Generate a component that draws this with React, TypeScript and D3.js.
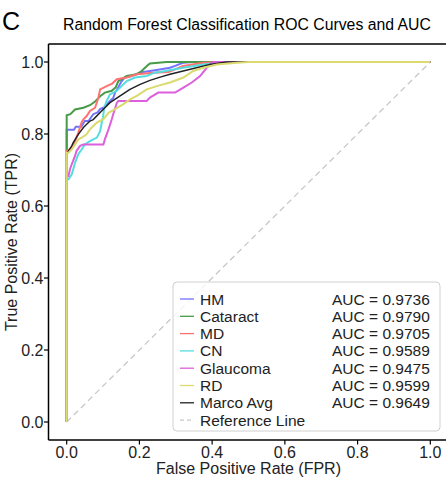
import React from "react";
import * as d3 from "d3";

const classNames = ["HM", "Cataract", "MD", "CN", "Glaucoma", "RD", "Marco Avg"];
const aucValues = ["0.9736", "0.9790", "0.9705", "0.9589", "0.9475", "0.9599", "0.9649"];
const colors = ["#7373ff", "#479a47", "#ff7272", "#55dcdc", "#dc5fdc", "#dada6e", "#222222"];

const hmFpr = [0, 0, 0.02, 0.025, 0.04, 0.05, 0.06, 0.073, 0.085, 0.092, 0.105, 0.119, 0.128, 0.133, 0.142, 0.15, 0.16, 0.179, 0.202, 0.229, 0.26, 0.284, 0.3, 0.32, 0.35, 1];
const hmTpr = [0, 0.812, 0.812, 0.82, 0.82, 0.836, 0.836, 0.855, 0.86, 0.869, 0.875, 0.892, 0.9, 0.915, 0.93, 0.945, 0.957, 0.961, 0.971, 0.975, 0.98, 0.984, 0.99, 0.998, 1, 1];

const catFpr = [0, 0, 0.01, 0.023, 0.046, 0.064, 0.078, 0.092, 0.105, 0.124, 0.135, 0.142, 0.165, 0.193, 0.206, 0.222, 0.229, 0.275, 1];
const catTpr = [0, 0.852, 0.855, 0.868, 0.873, 0.88, 0.89, 0.905, 0.915, 0.92, 0.93, 0.947, 0.961, 0.966, 0.975, 0.99, 0.996, 1, 1];

const mdFpr = [0, 0, 0.009, 0.018, 0.025, 0.032, 0.041, 0.046, 0.055, 0.064, 0.078, 0.087, 0.092, 0.11, 0.125, 0.138, 0.165, 0.193, 0.238, 0.28, 0.3, 0.32, 0.376, 0.44, 1];
const mdTpr = [0, 0.753, 0.757, 0.767, 0.785, 0.804, 0.832, 0.841, 0.85, 0.864, 0.873, 0.9, 0.924, 0.933, 0.94, 0.952, 0.957, 0.966, 0.97, 0.972, 0.98, 0.989, 0.998, 1, 1];

const cnFpr = [0, 0, 0.005, 0.014, 0.023, 0.032, 0.041, 0.05, 0.064, 0.083, 0.092, 0.096, 0.1, 0.103, 0.11, 0.119, 0.138, 0.151, 0.165, 0.188, 0.22, 0.243, 0.257, 0.32, 0.376, 0.43, 1];
const cnTpr = [0, 0.674, 0.674, 0.688, 0.72, 0.744, 0.757, 0.771, 0.78, 0.79, 0.808, 0.83, 0.846, 0.873, 0.892, 0.91, 0.92, 0.933, 0.947, 0.957, 0.961, 0.971, 0.972, 0.984, 0.993, 1, 1];

const glaFpr = [0, 0, 0.005, 0.009, 0.014, 0.023, 0.027, 0.037, 0.046, 0.101, 0.105, 0.115, 0.124, 0.128, 0.138, 0.142, 0.22, 0.229, 0.252, 0.298, 0.321, 0.344, 0.367, 0.385, 0.399, 0.41, 1];
const glaTpr = [0, 0.683, 0.683, 0.702, 0.716, 0.739, 0.753, 0.767, 0.771, 0.771, 0.785, 0.813, 0.841, 0.855, 0.887, 0.892, 0.892, 0.901, 0.915, 0.915, 0.929, 0.943, 0.961, 0.984, 0.998, 1, 1];

const rdFpr = [0, 0, 0.005, 0.014, 0.023, 0.032, 0.041, 0.055, 0.064, 0.069, 0.083, 0.101, 0.115, 0.133, 0.156, 0.174, 0.193, 0.22, 0.248, 0.284, 0.321, 0.348, 0.376, 0.413, 0.468, 0.5, 1];
const rdTpr = [0, 0.748, 0.748, 0.757, 0.771, 0.785, 0.79, 0.799, 0.813, 0.818, 0.832, 0.841, 0.859, 0.869, 0.883, 0.896, 0.906, 0.924, 0.933, 0.943, 0.957, 0.975, 0.984, 0.993, 0.998, 1, 1];

const macroFpr = [0, 0.014, 0.018, 0.032, 0.046, 0.064, 0.073, 0.096, 0.119, 0.147, 0.174, 0.202, 0.229, 0.257, 0.284, 0.34, 0.394, 0.44, 1];
const macroTpr = [0.745, 0.767, 0.776, 0.799, 0.818, 0.836, 0.84, 0.864, 0.887, 0.906, 0.924, 0.938, 0.949, 0.958, 0.966, 0.98, 0.993, 1, 1];

const tickValues = [0, 0.2, 0.4, 0.6, 0.8, 1.0];

const seriesFpr = [hmFpr, catFpr, mdFpr, cnFpr, glaFpr, rdFpr, macroFpr];
const seriesTpr = [hmTpr, catTpr, mdTpr, cnTpr, glaTpr, rdTpr, macroTpr];
// drawing order: macro average under the RD curve
const drawOrder = [0, 1, 2, 3, 4, 6, 5];

const FONT = "'Liberation Sans', Arial, sans-serif";

export default function App() {
  const W = 446;
  const H = 484;
  const left = 48.5;
  const right = 448.5;
  const top = 44;
  const bottom = 440;
  const x = d3.scaleLinear().domain([-0.05, 1.05]).range([left, right]);
  const y = d3.scaleLinear().domain([-0.05, 1.05]).range([bottom, top]);
  const line = d3
    .line<[number, number]>()
    .x((d) => x(d[0]))
    .y((d) => y(d[1]));

  const legX = 173;
  const legY = 282;
  const legW = 267;
  const legH = 149;
  const rowY0 = 299;
  const rowStep = 17.3;

  return (
    <svg
      width={W}
      height={H}
      style={{ position: "absolute", left: 0, top: 0, background: "#fff" }}
      fontFamily={FONT}
    >
      <rect x={0} y={0} width={W} height={H} fill="#fff" />
      <text x={2} y={30} fontSize={25} fill="#000">C</text>
      <text x={247} y={30} fontSize={15.8} textAnchor="middle" fill="#000">
        Random Forest Classification ROC Curves and AUC
      </text>

      <defs>
        <clipPath id="plotclip">
          <rect x={left} y={top} width={right - left} height={bottom - top} />
        </clipPath>
      </defs>

      <g clipPath="url(#plotclip)">
        <path
          d={line([[0, 0], [1, 1]]) || ""}
          stroke="#c8c8c8"
          strokeWidth={1.3}
          strokeDasharray="6,4"
          fill="none"
        />
        {drawOrder.map((i) => (
          <path
            key={i}
            d={line(seriesFpr[i].map((f, j) => [f, seriesTpr[i][j]] as [number, number])) || ""}
            stroke={colors[i]}
            strokeWidth={i === 6 ? 1.5 : 2}
            fill="none"
            strokeLinejoin="miter"
          />
        ))}
      </g>

      {/* frame */}
      <line x1={left} x2={right} y1={top} y2={top} stroke="#000" strokeWidth={1.5} />
      <line x1={left} x2={right} y1={bottom} y2={bottom} stroke="#000" strokeWidth={1.5} />
      <line x1={left} x2={left} y1={top} y2={bottom} stroke="#000" strokeWidth={1.5} />
      <line x1={right} x2={right} y1={top} y2={bottom} stroke="#000" strokeWidth={1.5} />

      {/* ticks */}
      {tickValues.map((t) => (
        <g key={"x" + t}>
          <line x1={x(t)} x2={x(t)} y1={bottom} y2={bottom + 4.5} stroke="#000" strokeWidth={1.2} />
          <text x={x(t)} y={458} fontSize={16} textAnchor="middle" fill="#222">
            {t.toFixed(1)}
          </text>
        </g>
      ))}
      {tickValues.map((t) => (
        <g key={"y" + t}>
          <line x1={left - 4.5} x2={left} y1={y(t)} y2={y(t)} stroke="#000" strokeWidth={1.2} />
          <text x={left - 5} y={y(t)} dy="0.36em" fontSize={16} textAnchor="end" fill="#222">
            {t.toFixed(1)}
          </text>
        </g>
      ))}

      <text x={(left + right) / 2} y={474} fontSize={16} textAnchor="middle" fill="#222">
        False Positive Rate (FPR)
      </text>
      <text
        transform={`translate(17, ${(top + bottom) / 2}) rotate(-90)`}
        fontSize={16}
        textAnchor="middle"
        fill="#222"
      >
        True Positive Rate (TPR)
      </text>

      {/* legend */}
      <rect
        x={legX}
        y={legY}
        width={legW}
        height={legH}
        rx={4}
        fill="#fff"
        fillOpacity={0.8}
        stroke="#d0d0d0"
        strokeWidth={1}
      />
      {classNames.map((name, i) => (
        <g key={name}>
          <line
            x1={180}
            x2={194}
            y1={rowY0 + i * rowStep}
            y2={rowY0 + i * rowStep}
            stroke={colors[i]}
            strokeWidth={1.3}
          />
          <text x={200} y={rowY0 + i * rowStep} dy="0.36em" fontSize={15.5} fill="#222">
            {name}
          </text>
          <text x={332} y={rowY0 + i * rowStep} dy="0.36em" fontSize={15.5} fill="#222">
            {"AUC = " + aucValues[i]}
          </text>
        </g>
      ))}
      <line
        x1={180}
        x2={194}
        y1={rowY0 + 7 * rowStep}
        y2={rowY0 + 7 * rowStep}
        stroke="#c8c8c8"
        strokeWidth={1.3}
        strokeDasharray="4,3"
      />
      <text x={200} y={rowY0 + 7 * rowStep} dy="0.36em" fontSize={15.5} fill="#222">
        Reference Line
      </text>
    </svg>
  );
}
